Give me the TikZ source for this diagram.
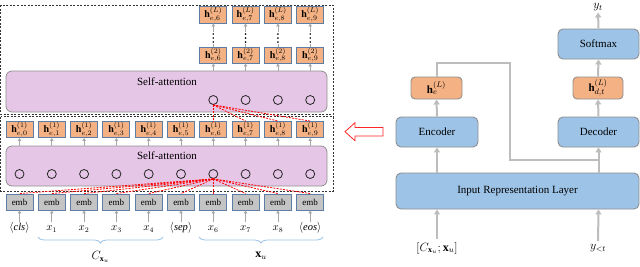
\documentclass[tikz,border=0pt]{standalone}
\usepackage{fontspec}
\setmainfont{Liberation Serif}
\usetikzlibrary{decorations.pathreplacing,arrows.meta,calc}
\definecolor{orng}{HTML}{F4B183}
\definecolor{bluebox}{HTML}{9DC3E6}
\definecolor{pinkbox}{HTML}{E6C6E6}
\definecolor{embgray}{HTML}{C4C4C4}
\definecolor{bordblue}{HTML}{5B7DA6}
\definecolor{bordgray}{HTML}{8F8F8F}
\definecolor{arrgray}{HTML}{A8A8A8}
\definecolor{rarrgray}{HTML}{BDBDBD}
\definecolor{bracecol}{HTML}{9DC3E6}
\begin{document}
\begin{tikzpicture}[x=1pt,y=-1pt,
 hbox/.style={draw=bordblue, line width=0.9pt, fill=orng, minimum width=27pt, minimum height=16pt, inner sep=0pt, font=\fontsize{10}{11}\selectfont},
 embbox/.style={draw=bordblue, line width=0.9pt, fill=embgray, minimum width=27pt, minimum height=16pt, inner sep=0pt, font=\fontsize{9}{10}\selectfont},
 attn/.style={draw=bordgray, fill=pinkbox, rounded corners=6pt, line width=0.8pt, inner sep=0pt},
 cir/.style={circle, draw=black!85, line width=0.8pt, minimum size=9pt, inner sep=0pt},
 sarr/.style={draw=arrgray, line width=0.8pt, -{Triangle[length=3pt,width=3.5pt]}},
 sline/.style={draw=arrgray, line width=0.8pt},
 rbox/.style={draw=bordgray, fill=bluebox, rounded corners=5pt, line width=0.9pt, inner sep=0pt, font=\fontsize{11}{12}\selectfont},
 obox/.style={draw=bordgray, fill=orng, rounded corners=4pt, line width=0.9pt, inner sep=0pt, font=\fontsize{11}{12}\selectfont},
 rarr/.style={draw=rarrgray, line width=2pt, -{Triangle[length=5pt,width=6pt]}},
 rline/.style={draw=rarrgray, line width=2pt},
 reddash/.style={draw=red, dash pattern=on 2pt off 1.2pt, line width=0.8pt},
 dbox/.style={draw=black!80, dash pattern=on 2pt off 1.5pt, line width=0.6pt},
 lab/.style={inner sep=0pt, text height=7pt, text depth=2pt, font=\fontsize{10.5}{11}\selectfont},
 brc/.style={draw=bracecol, line width=0.8pt, decorate, decoration={brace, mirror, amplitude=6pt}},
 satext/.style={font=\fontsize{11}{12}\selectfont, inner sep=0pt}
]
\useasboundingbox (0,0) rectangle (640,266);

% dashed frames
\draw[dbox] (0.5,5) rectangle (333,114);
\draw[dbox] (0.5,116.5) rectangle (333,191);

% self-attention boxes
\node[attn, minimum width=321pt, minimum height=41pt] (sa2) at (166.5,91.5) {};
\node[satext] (sa2t) at (167,82) {Self-attention};
\node[attn, minimum width=321pt, minimum height=40pt] (sa1) at (166.5,166) {};
\node[satext] (sa1t) at (167,156) {Self-attention};

% columns
\foreach \i in {0,...,9}{
  \pgfmathsetmacro{\cx}{19.5+32.3*\i}
  \node[hbox] (h1\i) at (\cx,129.5) {$\mathbf{h}^{(1)}_{e,\i}$};
  \node[embbox] (emb\i) at (\cx,202) {emb};
  \node[cir] (ca\i) at (\cx,174) {};
  \draw[sarr] (h1\i.south |- sa1.north) -- (h1\i.south);
}
\foreach \i in {6,...,9}{
  \pgfmathsetmacro{\cx}{19.5+32.3*\i}
  \node[hbox] (h2\i) at (\cx,55) {$\mathbf{h}^{(2)}_{e,\i}$};
  \node[hbox, minimum height=17pt] (hL\i) at (\cx,14.5) {$\mathbf{h}^{(L)}_{e,\i}$};
  \node[cir] (cb\i) at (\cx,100) {};
  \draw[sarr] (h2\i.south |- sa2.north) -- (h2\i.south);
  \coordinate (da\i) at (\cx,44);
  \coordinate (db\i) at (\cx,31.5);
  \draw[sline] (h2\i.north) -- (da\i);
  \draw[sarr] (db\i) -- (hL\i.south);
  \fill[black] (\cx,34) circle (0.9pt) (\cx,38) circle (0.9pt) (\cx,42) circle (0.9pt);
}

% red attention lines
\foreach \j in {6,...,9}{
  \draw[reddash] (cb6.south) -- (h1\j.north);
}
\foreach \j in {0,...,9}{
  \draw[reddash] (ca6.south) -- (emb\j.north);
}

% input labels
\node[lab] (l0) at (emb0 |- 0,228) {$\langle \mathit{cls}\rangle$};
\node[lab] (l1) at (emb1 |- 0,228) {$x_1$};
\node[lab] (l2) at (emb2 |- 0,228) {$x_2$};
\node[lab] (l3) at (emb3 |- 0,228) {$x_3$};
\node[lab] (l4) at (emb4 |- 0,228) {$x_4$};
\node[lab] (l5) at (emb5 |- 0,228) {$\langle \mathit{sep}\rangle$};
\node[lab] (l6) at (emb6 |- 0,228) {$x_6$};
\node[lab] (l7) at (emb7 |- 0,228) {$x_7$};
\node[lab] (l8) at (emb8 |- 0,228) {$x_8$};
\node[lab] (l9) at (emb9 |- 0,228) {$\langle \mathit{eos}\rangle$};
\foreach \i in {0,...,9}{
  \draw[sarr, shorten <=1pt] (l\i.north) -- (emb\i.south);
}

% braces
\coordinate (b1a) at (38,237);
\coordinate (b1b) at (163,237);
\coordinate (b2a) at (199,237);
\coordinate (b2b) at (323,237);
\draw[brc] (b1a) -- (b1b);
\draw[brc] (b2a) -- (b2b);
\node[font=\fontsize{12}{13}\selectfont, inner sep=0pt] (cxu) at (100.5,257) {$C_{\mathbf{x}_u}$};
\node[font=\fontsize{12}{13}\selectfont, inner sep=0pt] (xu) at (261,256) {$\mathbf{x}_u$};

% red hollow arrow
\draw[red!85, line width=0.8pt, fill=white] (345,131.7) -- (355,122.7) -- (355,127.5) -- (383,127.5) -- (383,136) -- (355,136) -- (355,140.7) -- cycle;

% right side
\node[rbox, minimum width=82pt, minimum height=30pt] (enc) at (437,132) {Encoder};
\node[rbox, minimum width=81pt, minimum height=30pt] (dec) at (598.5,132) {Decoder};
\node[rbox, minimum width=81pt, minimum height=30pt] (soft) at (598.5,44) {Softmax};
\node[rbox, minimum width=243pt, minimum height=36pt] (irl) at (517.5,191) {Input Representation Layer};
\node[obox, minimum width=51pt, minimum height=22pt] (he) at (436.5,88) {$\mathbf{h}^{(L)}_{e}$};
\node[obox, minimum width=50pt, minimum height=22pt] (hd) at (598,88) {$\mathbf{h}^{(L)}_{d,t}$};
\node[font=\fontsize{12}{13}\selectfont, inner sep=0pt] (yt) at (598,7.5) {$y_t$};
\node[font=\fontsize{12}{13}\selectfont, inner sep=0pt] (inx) at (437,248) {$[C_{\mathbf{x}_u};\mathbf{x}_u]$};
\node[font=\fontsize{12}{13}\selectfont, inner sep=0pt] (iny) at (598,248) {$y_{<t}$};

\coordinate (j1) at (510,63);
\coordinate (j3) at (598.5,160);
\draw[rline] (he.north) |- (j1) |- (j3);
\draw[rarr] (irl.north -| enc.south) -- (enc.south);
\draw[rarr] (irl.north -| dec.south) -- (dec.south);
\draw[rarr] (enc.north) -- (he.south);
\draw[rarr] (dec.north) -- (hd.south);
\draw[rarr] (hd.north) -- (soft.south);
\draw[rarr, shorten >=1pt] (soft.north) -- (yt.south);
\draw[rarr, shorten <=3pt] (inx.north -| enc.south) -- (irl.south -| enc.south);
\draw[rarr, shorten <=3pt] (iny.north) -- (irl.south -| dec.south);
\end{tikzpicture}
\end{document}
